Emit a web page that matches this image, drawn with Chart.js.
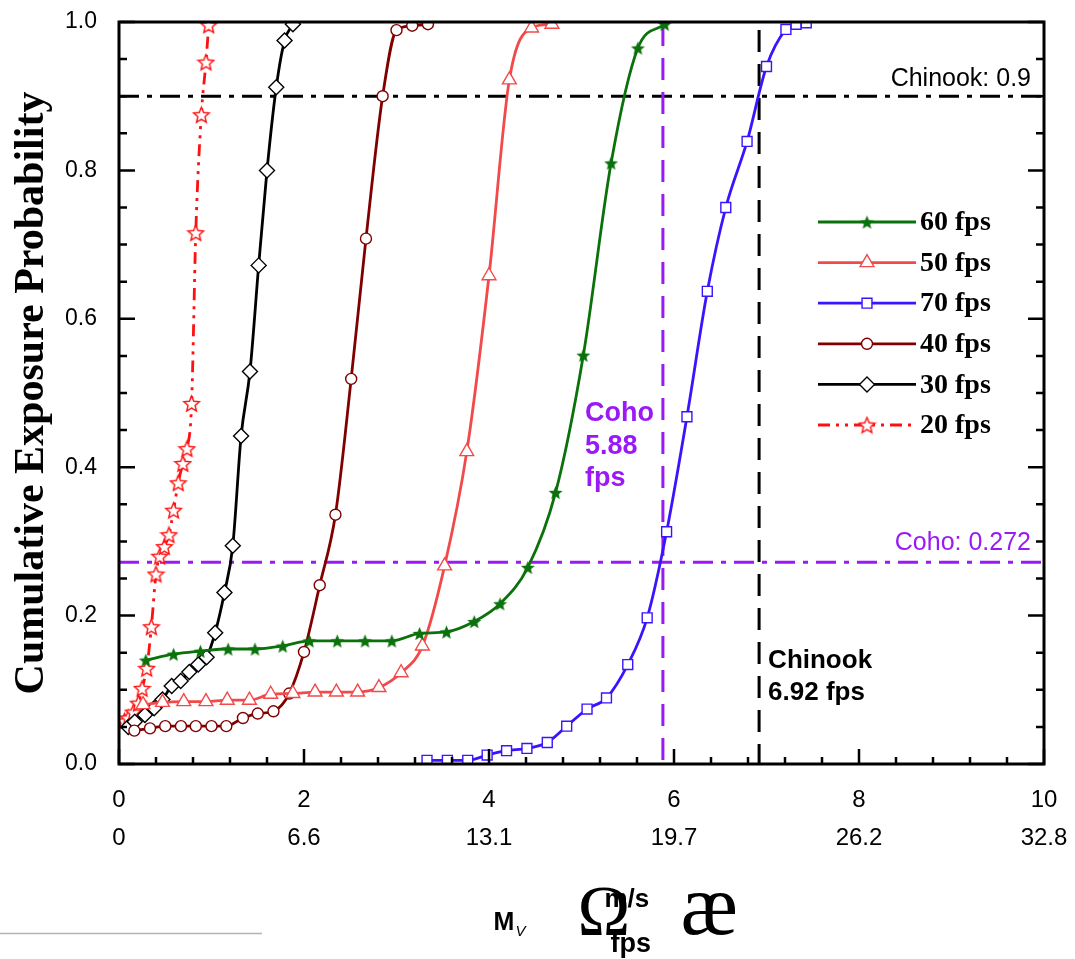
<!DOCTYPE html>
<html>
<head>
<meta charset="utf-8">
<script src="https://cdn.jsdelivr.net/npm/chart.js@4.4.1/dist/chart.umd.min.js"></script>
<style>
  html, body { margin: 0; padding: 0; background: #fff; }
  #wrap { width: 1075px; height: 959px; }
</style>
</head>
<body>
<div id="wrap"><canvas id="cep" width="1075" height="959"></canvas></div>
<script>
// flow speed (m/s) vs cumulative exposure probability, one curve per camera rate
const x60 = [0.29, 0.59, 0.88, 1.18, 1.47, 1.77, 2.06, 2.36, 2.66, 2.95, 3.25, 3.54, 3.84, 4.12, 4.42, 4.72, 5.02, 5.32, 5.61, 5.90];
const y60 = [0.140, 0.148, 0.152, 0.155, 0.155, 0.159, 0.166, 0.166, 0.166, 0.166, 0.176, 0.178, 0.192, 0.216, 0.265, 0.366, 0.551, 0.810, 0.965, 0.997];

const x50 = [0.26, 0.47, 0.70, 0.94, 1.17, 1.41, 1.64, 1.88, 2.12, 2.35, 2.58, 2.81, 3.05, 3.28, 3.52, 3.76, 4.00, 4.22, 4.46, 4.68];
const y50 = [0.080, 0.083, 0.084, 0.084, 0.086, 0.086, 0.094, 0.095, 0.097, 0.097, 0.097, 0.103, 0.123, 0.159, 0.267, 0.421, 0.658, 0.922, 0.992, 0.997];

const x70 = [3.33, 3.55, 3.77, 3.98, 4.19, 4.41, 4.63, 4.84, 5.06, 5.27, 5.50, 5.71, 5.92, 6.14, 6.36, 6.56, 6.79, 7.00, 7.21, 7.32, 7.43];
const y70 = [0.005, 0.005, 0.005, 0.012, 0.018, 0.021, 0.029, 0.051, 0.074, 0.089, 0.134, 0.197, 0.313, 0.468, 0.637, 0.750, 0.839, 0.940, 0.990, 0.997, 0.999];

const x40 = [0.166, 0.335, 0.50, 0.67, 0.83, 1.00, 1.16, 1.34, 1.50, 1.67, 1.84, 2.00, 2.17, 2.34, 2.51, 2.67, 2.85, 3.00, 3.17, 3.34];
const y40 = [0.045, 0.048, 0.051, 0.051, 0.051, 0.051, 0.051, 0.062, 0.068, 0.071, 0.095, 0.151, 0.241, 0.336, 0.519, 0.708, 0.900, 0.989, 0.995, 0.997];

const x30 = [0.10, 0.17, 0.28, 0.38, 0.47, 0.57, 0.667, 0.76, 0.857, 0.947, 1.04, 1.14, 1.23, 1.32, 1.416, 1.51, 1.60, 1.70, 1.79, 1.88];
const y30 = [0.050, 0.057, 0.066, 0.075, 0.087, 0.105, 0.112, 0.124, 0.134, 0.144, 0.177, 0.231, 0.294, 0.442, 0.529, 0.672, 0.800, 0.912, 0.975, 0.997];

const x20 = [0.06, 0.10, 0.155, 0.21, 0.25, 0.30, 0.35, 0.40, 0.44, 0.49, 0.54, 0.59, 0.64, 0.69, 0.735, 0.785, 0.83, 0.89, 0.94, 0.97];
const y20 = [0.058, 0.062, 0.070, 0.082, 0.102, 0.129, 0.185, 0.256, 0.280, 0.293, 0.309, 0.342, 0.379, 0.405, 0.425, 0.486, 0.716, 0.875, 0.946, 0.996];

// thresholds
const chinookProb = 0.9;
const cohoProb = 0.272;
const cohoSpeed = 5.88;
const chinookSpeed = 6.92;

// second row of x labels (ft/s)
const xTicks = [0, 2, 4, 6, 8, 10];
const fpsTicks = ['0', '6.6', '13.1', '19.7', '26.2', '32.8'];

const PURPLE = '#9a1af5';
const SANS = "'Liberation Sans', Arial, sans-serif";
const SERIF = "'Liberation Serif', 'Times New Roman', serif";

function starCanvas(size, fill, stroke) {
  const c = document.createElement('canvas');
  c.width = c.height = size;
  const g = c.getContext('2d');
  const r = size / 2 - 1.2, r2 = r * 0.45, cx = size / 2, cy = size / 2 + 0.8;
  g.beginPath();
  for (let i = 0; i < 10; i++) {
    const a = -Math.PI / 2 + i * Math.PI / 5;
    const rr = i % 2 ? r2 : r;
    g.lineTo(cx + rr * Math.cos(a), cy + rr * Math.sin(a));
  }
  g.closePath();
  g.fillStyle = fill;
  g.fill();
  if (stroke) {
    g.lineWidth = 1.4;
    g.strokeStyle = stroke;
    g.stroke();
  }
  return c;
}

const greenStar = starCanvas(17, '#0b720b');
const redStar = starCanvas(19, '#fff', '#ff1010');

function pts(xs, ys) {
  return xs.map((x, i) => ({ x: x, y: ys[i] }));
}

function series(label, xs, ys, color, style, radius, dash) {
  return {
    label: label,
    data: pts(xs, ys),
    borderColor: color,
    borderWidth: 2.8,
    borderDash: dash || [],
    pointStyle: style,
    pointRadius: radius,
    pointBackgroundColor: '#fff',
    pointBorderColor: color,
    pointBorderWidth: 1.4,
    cubicInterpolationMode: 'monotone',
    fill: false
  };
}

const datasets = [
  series('60 fps', x60, y60, '#0b720b', greenStar, 8),
  series('50 fps', x50, y50, '#f24a4a', 'triangle', 8),
  series('70 fps', x70, y70, '#3a14ff', 'rect', 7),
  series('40 fps', x40, y40, '#800000', 'circle', 5.5),
  series('30 fps', x30, y30, '#000000', 'rectRot', 7.5),
  series('20 fps', x20, y20, '#ff1010', redStar, 9, [12, 6, 3, 6, 3, 6])
];

// the frame is drawn by hand, so the scales get no extra edge padding
function noEdgePadding(scale) {
  scale.paddingTop = 0;
  scale.paddingBottom = 0;
  scale.paddingLeft = 0;
  scale.paddingRight = 0;
}

const decor = {
  id: 'decor',
  beforeDatasetsDraw(chart) {
    const ctx = chart.ctx, a = chart.chartArea;
    const xs = chart.scales.x, ys = chart.scales.y;
    ctx.save();
    ctx.lineWidth = 3;

    // horizontal thresholds
    ctx.setLineDash([20, 8, 5, 8]);
    ctx.strokeStyle = '#000';
    let py = ys.getPixelForValue(chinookProb);
    ctx.beginPath(); ctx.moveTo(a.left, py); ctx.lineTo(a.right, py); ctx.stroke();
    ctx.strokeStyle = PURPLE;
    py = ys.getPixelForValue(cohoProb);
    ctx.beginPath(); ctx.moveTo(a.left, py); ctx.lineTo(a.right, py); ctx.stroke();

    // vertical speed markers
    ctx.setLineDash([22, 12]);
    let px = xs.getPixelForValue(cohoSpeed);
    ctx.strokeStyle = PURPLE;
    ctx.beginPath(); ctx.moveTo(px, a.top + 2); ctx.lineTo(px, a.bottom); ctx.stroke();
    px = xs.getPixelForValue(chinookSpeed);
    ctx.strokeStyle = '#000';
    ctx.beginPath(); ctx.moveTo(px, a.top + 8); ctx.lineTo(px, a.bottom); ctx.stroke();
    ctx.restore();
  },
  afterDraw(chart) {
    const ctx = chart.ctx, a = chart.chartArea;
    const xs = chart.scales.x, ys = chart.scales.y;
    ctx.save();
    ctx.setLineDash([]);

    // frame
    ctx.strokeStyle = '#000';
    ctx.lineWidth = 3;
    ctx.strokeRect(a.left, a.top, a.right - a.left, a.bottom - a.top);

    // inward ticks
    ctx.lineWidth = 2.5;
    ctx.beginPath();
    for (let i = 0; i <= 25; i++) {
      const v = i * 0.4;
      const len = i % 5 === 0 ? 15 : 7;
      const px = xs.getPixelForValue(v);
      ctx.moveTo(px, a.bottom); ctx.lineTo(px, a.bottom - len);
    }
    for (let i = 0; i <= 20; i++) {
      const v = i * 0.05;
      const len = i % 4 === 0 ? 16 : 8;
      const py = ys.getPixelForValue(v);
      ctx.moveTo(a.left, py); ctx.lineTo(a.left + len, py);
      ctx.moveTo(a.right, py); ctx.lineTo(a.right - len, py);
    }
    ctx.stroke();

    // legend inside the plot
    const lx0 = a.right - 226, lx1 = a.right - 128, ly0 = a.top + 200, step = 40.6;
    chart.data.datasets.forEach((ds, i) => {
      const y = ly0 + i * step;
      ctx.strokeStyle = ds.borderColor;
      ctx.lineWidth = 2.8;
      ctx.setLineDash(ds.borderDash);
      ctx.beginPath(); ctx.moveTo(lx0, y); ctx.lineTo(lx1, y); ctx.stroke();
      ctx.setLineDash([]);
      ctx.fillStyle = '#fff';
      ctx.lineWidth = ds.pointBorderWidth;
      Chart.helpers.drawPoint(ctx, {
        pointStyle: ds.pointStyle, radius: ds.pointRadius, rotation: 0,
        borderWidth: ds.pointBorderWidth
      }, (lx0 + lx1) / 2, y);
      ctx.fillStyle = '#000';
      ctx.font = 'bold 28px ' + SERIF;
      ctx.textAlign = 'left';
      ctx.textBaseline = 'middle';
      ctx.fillText(ds.label, lx1 + 4, y + 1);
    });

    // threshold labels
    ctx.textAlign = 'right';
    ctx.textBaseline = 'middle';
    ctx.font = '25px ' + SANS;
    ctx.fillStyle = '#000';
    ctx.fillText('Chinook: 0.9', a.right - 13, ys.getPixelForValue(chinookProb) - 17);
    ctx.fillStyle = PURPLE;
    ctx.fillText('Coho: 0.272', a.right - 13, ys.getPixelForValue(cohoProb) - 19);

    ctx.textAlign = 'left';
    ctx.font = 'bold 27px ' + SANS;
    let cx = xs.getPixelForValue(cohoSpeed) - 78;
    ['Coho', '5.88', 'fps'].forEach((t, i) => ctx.fillText(t, cx, a.top + 392 + i * 32.5));
    ctx.fillStyle = '#000';
    ctx.font = 'bold 26px ' + SANS;
    cx = xs.getPixelForValue(chinookSpeed) + 9;
    ['Chinook', '6.92 fps'].forEach((t, i) => ctx.fillText(t, cx, a.top + 639 + i * 32));

    // x axis title
    const mid = (a.left + a.right) / 2;
    ctx.textBaseline = 'alphabetic';
    ctx.fillStyle = '#000';
    ctx.font = 'bold 25px ' + SANS;
    ctx.fillText('M', mid - 88, 930);
    ctx.font = 'italic 15px ' + SANS;
    ctx.fillText('V', mid - 66, 936);
    ctx.font = '71px ' + SERIF;
    ctx.fillText('\u03A9', mid - 4, 935);
    ctx.font = 'bold 26px ' + SANS;
    ctx.fillText('m/s', mid + 23, 907);
    ctx.font = 'bold 27px ' + SANS;
    ctx.fillText('fps', mid + 29, 952);
    ctx.font = '86px ' + SERIF;
    ctx.fillText('\u00E6', mid + 99, 934);

    ctx.strokeStyle = '#b4b4b4';
    ctx.lineWidth = 1.5;
    ctx.beginPath(); ctx.moveTo(0, 933.5); ctx.lineTo(262, 933.5); ctx.stroke();
    ctx.restore();
  }
};

new Chart(document.getElementById('cep'), {
  type: 'line',
  data: { datasets: datasets },
  plugins: [decor],
  options: {
    responsive: false,
    animation: false,
    layout: { padding: { left: 0, top: 22, right: 31, bottom: 0 } },
    plugins: { legend: { display: false }, tooltip: { enabled: false } },
    scales: {
      x: {
        type: 'linear', min: 0, max: 10,
        grid: { display: false, drawTicks: false },
        border: { display: false },
        afterFit(scale) { scale.height = 195; noEdgePadding(scale); },
        afterBuildTicks(scale) { scale.ticks = xTicks.map(v => ({ value: v })); },
        ticks: {
          color: '#000',
          padding: 17,
          maxRotation: 0,
          font: { family: SANS, size: 24, lineHeight: 1.58 },
          callback: (v, i) => [String(v), fpsTicks[i]]
        }
      },
      y: {
        min: 0, max: 1,
        grid: { display: false, drawTicks: false },
        border: { display: false },
        afterFit(scale) { scale.width = 119; noEdgePadding(scale); },
        ticks: {
          stepSize: 0.2,
          color: '#000',
          padding: 22,
          font: { family: SANS, size: 23 },
          callback: v => v.toFixed(1)
        },
        title: {
          display: true,
          text: 'Cumulative Exposure Probability',
          color: '#000',
          font: { family: SERIF, size: 42, weight: 'bold' },
          padding: { top: 7, bottom: 0 }
        }
      }
    }
  }
});
</script>
</body>
</html>
